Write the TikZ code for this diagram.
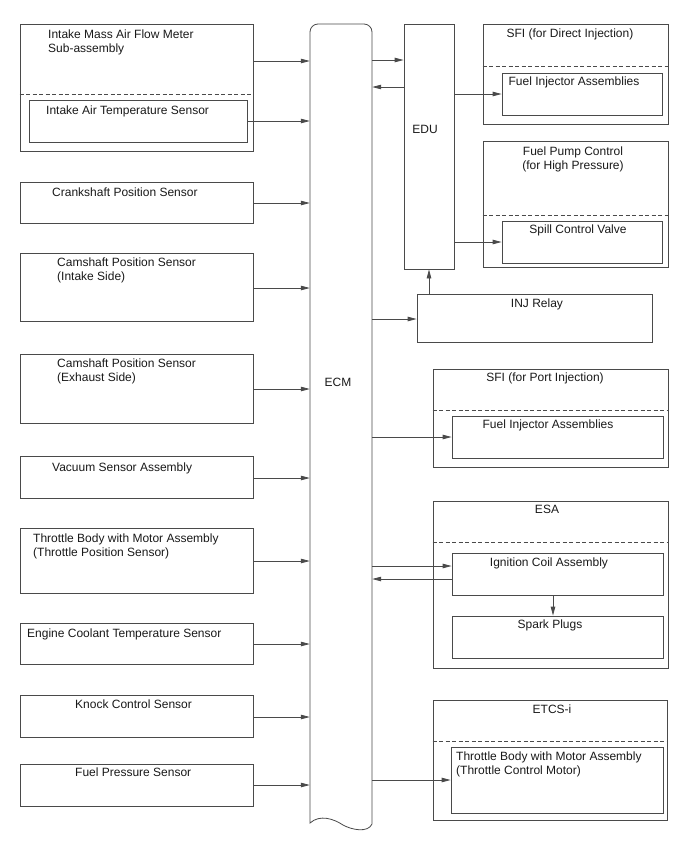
\documentclass[tikz,border=0pt]{standalone}
\usepackage{fontspec}
\setmainfont{Liberation Sans}
\usetikzlibrary{arrows.meta}
\definecolor{ln}{HTML}{4A4A4A}
\tikzset{
  box/.style={draw=ln, line width=0.8pt, inner sep=0pt, rectangle},
  arr/.style={draw=ln, line width=0.8pt, -{Triangle[length=9pt,width=4.5pt]}},
  dsh/.style={draw=ln, line width=0.8pt, dash pattern=on 4pt off 2.5pt},
  lt/.style={anchor=north west, inner sep=0pt, align=left, text=black!90},
  ct/.style={anchor=north, inner sep=0pt, align=center, text=black!90},
}
\begin{document}
\begin{tikzpicture}[x=1pt, y=-1pt, font=\fontsize{12}{14}\selectfont]
\useasboundingbox (0,0) rectangle (688,852);
% ---------------- left column ----------------
\node[box, minimum width=233pt, minimum height=127pt] (maf) at (136.5,87.5) {};
\node[box, minimum width=218pt, minimum height=42pt] (iat) at (138,121) {};
\node[box, minimum width=233pt, minimum height=41pt] (crank) at (136.5,202.5) {};
\node[box, minimum width=233pt, minimum height=68pt] (camin) at (136.5,287) {};
\node[box, minimum width=233pt, minimum height=69pt] (camex) at (136.5,388.5) {};
\node[box, minimum width=233pt, minimum height=42pt] (vac) at (136.5,477) {};
\node[box, minimum width=233pt, minimum height=65pt] (thr) at (136.5,560.5) {};
\node[box, minimum width=233pt, minimum height=41pt] (ect) at (136.5,643.5) {};
\node[box, minimum width=233pt, minimum height=42pt] (knock) at (136.5,716) {};
\node[box, minimum width=233pt, minimum height=42pt] (fps) at (136.5,785) {};
\draw[dsh] (maf.west |- 0,94) -- (maf.east |- 0,94);

\node[lt] (tmaf) at (48,29.6) {Intake Mass Air Flow Meter\\Sub-assembly};
\node[lt] (tiat) at (46,105.6) {Intake Air Temperature Sensor};
\node[lt] (tcrank) at (52,187.6) {Crankshaft Position Sensor};
\node[lt] (tcamin) at (57,257.6) {Camshaft Position Sensor\\(Intake Side)};
\node[lt] (tcamex) at (57,358.6) {Camshaft Position Sensor\\(Exhaust Side)};
\node[lt] (tvac) at (52,462.6) {Vacuum Sensor Assembly};
\node[lt] (tthr) at (33,533.6) {Throttle Body with Motor Assembly\\(Throttle Position Sensor)};
\node[lt] (tect) at (27,628.6) {Engine Coolant Temperature Sensor};
\node[lt] (tknock) at (75,699.6) {Knock Control Sensor};
\node[lt] (tfps) at (75,767.6) {Fuel Pressure Sensor};

% ---------------- ECM ----------------
\node[inner sep=0pt, minimum width=62pt, minimum height=802pt] (ecm) at (341,425) {};
\draw[draw=ln, line width=0.8pt]
  (310,823) [rounded corners=8pt] -- (310,24) -- (372,24) [sharp corners] -- (372,824)
  .. controls (368,833) and (352,830) .. (343,825)
  .. controls (334,819) and (320,814) .. (310,823) -- cycle;
\node[ct] (tecm) at (338,377.6) {ECM};

% ---------------- EDU ----------------
\node[box, minimum width=50pt, minimum height=245pt] (edu) at (429,146.5) {};
\node[ct] (tedu) at (425,124.6) {EDU};

% SFI direct
\node[box, minimum width=185pt, minimum height=100pt] (sfid) at (575.5,74) {};
\draw[dsh] (sfid.west |- 0,66) -- (sfid.east |- 0,66);
\node[box, minimum width=160pt, minimum height=42pt] (fia) at (582,94) {};
\node[ct] (tsfid) at (570,28.6) {SFI (for Direct Injection)};
\node[ct] (tfia) at (574,76.6) {Fuel Injector Assemblies};

% Fuel pump control
\node[box, minimum width=185pt, minimum height=126pt] (fpc) at (575.5,204) {};
\draw[dsh] (fpc.west |- 0,215) -- (fpc.east |- 0,215);
\node[box, minimum width=160pt, minimum height=42pt] (scv) at (582,242) {};
\node[ct] (tfpc) at (573,146.6) {Fuel Pump Control\\(for High Pressure)};
\node[ct] (tscv) at (578,224.6) {Spill Control Valve};

% INJ relay
\node[box, minimum width=235pt, minimum height=48pt] (inj) at (534.5,318) {};
\node[ct] (tinj) at (537,298.6) {INJ Relay};

% SFI port
\node[box, minimum width=235pt, minimum height=98pt] (sfip) at (550.5,418) {};
\draw[dsh] (sfip.west |- 0,410) -- (sfip.east |- 0,410);
\node[box, minimum width=211pt, minimum height=42pt] (fip) at (557.5,437) {};
\node[ct] (tsfip) at (545,372.6) {SFI (for Port Injection)};
\node[ct] (tfip) at (548,419.6) {Fuel Injector Assemblies};

% ESA
\node[box, minimum width=235pt, minimum height=167pt] (esa) at (550.5,584.5) {};
\draw[dsh] (esa.west |- 0,542) -- (esa.east |- 0,542);
\node[box, minimum width=211pt, minimum height=42pt] (ign) at (557.5,574) {};
\node[box, minimum width=211pt, minimum height=42pt] (spk) at (557.5,637) {};
\node[ct] (tesa) at (547,504.6) {ESA};
\node[ct] (tign) at (549,557.6) {Ignition Coil Assembly};
\node[ct] (tspk) at (550,619.6) {Spark Plugs};

% ETCS-i
\node[box, minimum width=234pt, minimum height=120pt] (etcs) at (550,760) {};
\draw[dsh] (etcs.west |- 0,741) -- (etcs.east |- 0,741);
\node[box, minimum width=212pt, minimum height=66pt] (tcm) at (557,780) {};
\node[ct] (tetcs) at (552,704.6) {ETCS-i};
\node[lt] (ttcm) at (456,751.6) {Throttle Body with Motor Assembly\\(Throttle Control Motor)};

% ---------------- connectors ----------------
\draw[arr] (maf.east |- 0,61) -- (ecm.west |- 0,61);
\draw[arr] (iat.east |- 0,121) -- (ecm.west |- 0,121);
\draw[arr] (crank.east |- 0,203) -- (ecm.west |- 0,203);
\draw[arr] (camin.east |- 0,288) -- (ecm.west |- 0,288);
\draw[arr] (camex.east |- 0,389) -- (ecm.west |- 0,389);
\draw[arr] (vac.east |- 0,478) -- (ecm.west |- 0,478);
\draw[arr] (thr.east |- 0,561) -- (ecm.west |- 0,561);
\draw[arr] (ect.east |- 0,644) -- (ecm.west |- 0,644);
\draw[arr] (knock.east |- 0,717) -- (ecm.west |- 0,717);
\draw[arr] (fps.east |- 0,785) -- (ecm.west |- 0,785);

\draw[arr] (ecm.east |- 0,60) -- (edu.west |- 0,60);
\draw[arr] (edu.west |- 0,87) -- (ecm.east |- 0,87);
\draw[arr] (edu.east |- 0,94) -- (fia.west |- 0,94);
\draw[arr] (edu.east |- 0,242) -- (scv.west |- 0,242);
\draw[arr] (ecm.east |- 0,319) -- (inj.west |- 0,319);
\draw[arr] (inj.north -| 429,0) -- (edu.south);
\draw[arr] (ecm.east |- 0,437) -- (fip.west |- 0,437);
\draw[arr] (ecm.east |- 0,566) -- (ign.west |- 0,566);
\draw[arr] (ign.west |- 0,579) -- (ecm.east |- 0,579);
\draw[arr] (ign.south -| 553,0) -- (spk.north -| 553,0);
\draw[arr] (ecm.east |- 0,780) -- (tcm.west |- 0,780);
\end{tikzpicture}
\end{document}
